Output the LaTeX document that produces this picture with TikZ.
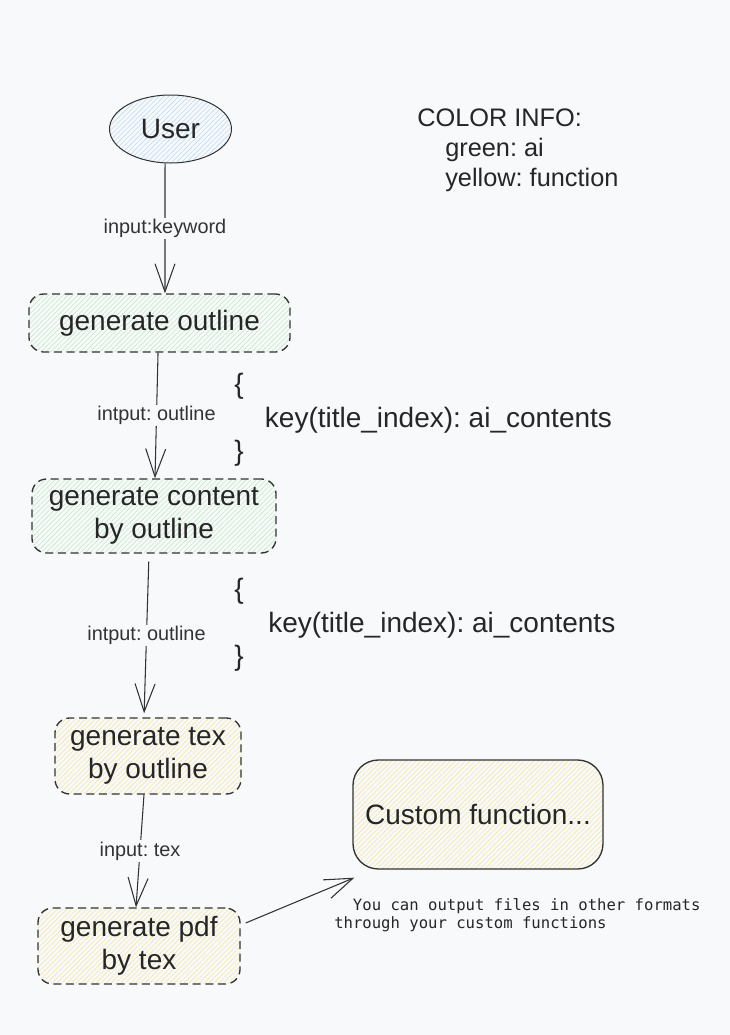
\documentclass[tikz,border=0pt]{standalone}
\usepackage{fontspec}
\setmainfont{Liberation Sans}
\setmonofont{DejaVu Sans Mono}
\frenchspacing
\usetikzlibrary{arrows.meta,patterns.meta,shapes.geometric,positioning}
\definecolor{pagebg}{HTML}{F8F9FB}
\definecolor{ink}{HTML}{333333}
\definecolor{hatchblue}{HTML}{BCDBF5}
\definecolor{hatchgreen}{HTML}{C4EAC4}
\definecolor{hatchyellow}{HTML}{F6E6A4}

\begin{document}
\begin{tikzpicture}[x=0.75pt,y=-0.75pt,
    >={Straight Barb[length=21pt,width=15pt]},
    bigtext/.style={text=black!85,font=\fontsize{21pt}{24.5pt}\selectfont,align=center},
    proc/.style={bigtext,draw=ink,line width=1pt,dash pattern=on 6pt off 3.5pt,
      rounded corners=11pt,inner sep=0pt},
    ai/.style={proc,pattern={Lines[angle=45,distance=2.6pt,line width=0.45pt]},pattern color=hatchgreen},
    func/.style={proc,pattern={Lines[angle=45,distance=2.6pt,line width=0.45pt]},pattern color=hatchyellow},
    lbl/.style={fill=pagebg,text=black!80,font=\fontsize{14.9pt}{17pt}\selectfont,inner sep=1pt},
    conn/.style={->,draw=ink,line width=0.8pt},
    note/.style={text=black!85,align=left,inner sep=0pt,anchor=west}]

  \fill[pagebg] (0,0) rectangle (730,1035);
  \useasboundingbox (0,0) rectangle (730,1035);

  % flow
  \node (user)[ellipse,bigtext,draw=ink,line width=0.75pt,minimum width=91.5pt,minimum height=51pt,
    pattern={Lines[angle=45,distance=2.6pt,line width=0.45pt]},pattern color=hatchblue] at (170.5,129) {User};
  \node (outline)[ai,minimum width=195.75pt,minimum height=43.5pt] at (159.5,323) {generate outline};
  \node (content)[ai,minimum width=183pt,minimum height=55.5pt] at (154,516) {generate content\\by outline};
  \node (tex)[func,minimum width=139.5pt,minimum height=57pt] at (148,756) {generate tex\\by outline};
  \node (pdf)[func,minimum width=151.5pt,minimum height=57pt] at (139,946) {generate pdf\\by tex};
  \node (custom)[bigtext,draw=ink,line width=1pt,rounded corners=19pt,minimum width=187.5pt,minimum height=81.75pt,
    pattern={Lines[angle=45,distance=2.6pt,line width=0.45pt]},pattern color=hatchyellow] at (478,814.5) {Custom function...};

  % notes
  \node (info)[note,font=\fontsize{19pt}{22.5pt}\selectfont] at (417,150.5)
    {COLOR INFO:\\\hspace*{21pt}green: ai\\\hspace*{21pt}yellow: function};
  \node (keysA)[note,font=\fontsize{21pt}{25pt}\selectfont] at (234,420)
    {\{\\\hspace*{23pt}key(title\_index): ai\_contents\\\}};
  \node (keysB)[note,font=\fontsize{21pt}{25pt}\selectfont] at (234,625)
    {\{\\\hspace*{25.5pt}key(title\_index): ai\_contents\\\}};
  \node (hint)[note,font=\ttfamily\fontsize{11.7pt}{13.5pt}\selectfont] at (334,915)
    {\hspace*{1.2em}You can output files in other formats\\through your custom functions};

  % connectors
  \draw[conn] ([xshift=-4.1pt]user.south) -- node[lbl] {input:keyword} ([xshift=4.1pt]outline.north);
  \draw[conn] ([xshift=-1.1pt]outline.south) -- node[lbl] {intput: outline} ([xshift=0.75pt]content.north);
  \draw[conn,shorten <=6pt,shorten >=3pt] ([xshift=-3.75pt]content.south) -- node[lbl] {intput: outline} ([xshift=-3pt]tex.north);
  \draw[conn] ([xshift=-3pt]tex.south) -- node[lbl] {input: tex} ([xshift=-2.25pt]pdf.north);
  \draw[conn] ([shift={(5,-23)}]pdf.east) -- ([shift={(2,8)}]custom.south west);
\end{tikzpicture}
\end{document}
